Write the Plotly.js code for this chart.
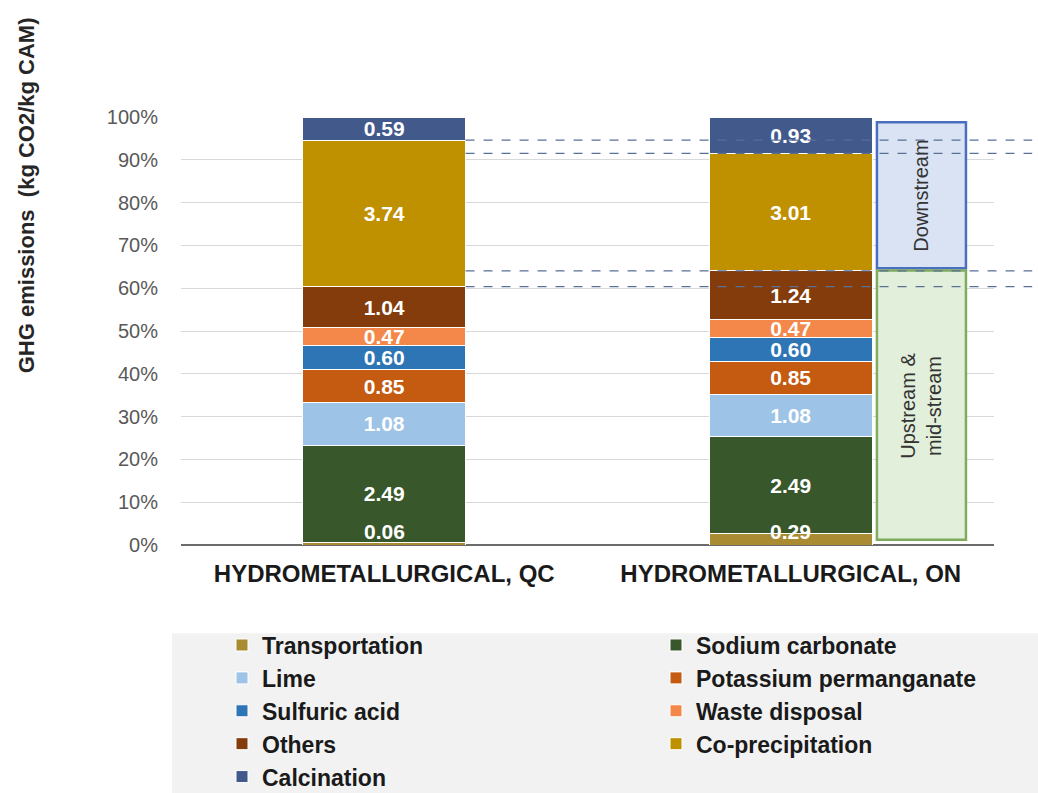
<!DOCTYPE html>
<html><head><meta charset="utf-8">
<script src="https://cdn.plot.ly/plotly-3.0.1.min.js"></script>
<style>html,body{margin:0;padding:0;background:#fff}#chart{width:1038px;height:793px}</style>
</head><body><div id="chart"></div>
<script>
// ---- data ----
const categories = ['HYDROMETALLURGICAL, QC', 'HYDROMETALLURGICAL, ON'];
const seriesNames = ['Transportation', 'Sodium carbonate', 'Lime', 'Potassium permanganate',
  'Sulfuric acid', 'Waste disposal', 'Others', 'Co-precipitation', 'Calcination'];
const transportation = [0.06, 0.29];
const sodiumCarbonate = [2.49, 2.49];
const lime = [1.08, 1.08];
const potassiumPermanganate = [0.85, 0.85];
const sulfuricAcid = [0.60, 0.60];
const wasteDisposal = [0.47, 0.47];
const others = [1.04, 1.24];
const coPrecipitation = [3.74, 3.01];
const calcination = [0.59, 0.93];
const yTickVals = [0, 10, 20, 30, 40, 50, 60, 70, 80, 90, 100];
const yTickText = ['0%', '10%', '20%', '30%', '40%', '50%', '60%', '70%', '80%', '90%', '100%'];
const boxLabels = ['Downstream', 'Upstream &<br>mid-stream'];
const yTitle = 'GHG emissions  (kg CO2/kg CAM)';

// ---- styles ----
const colors = ['#a98b32', '#38572a', '#9dc3e6', '#c55a11', '#2e75b6', '#f4884a', '#843c0c', '#bf9000', '#42598c'];
const seriesValues = [transportation, sodiumCarbonate, lime, potassiumPermanganate, sulfuricAcid,
  wasteDisposal, others, coPrecipitation, calcination];
const FONT = '"Liberation Sans", Arial, sans-serif';

const traces = seriesValues.map((vals, k) => ({
  type: 'bar',
  name: seriesNames[k],
  x: categories,
  y: vals,
  text: vals.map(v => v.toFixed(2)),
  texttemplate: '%{text}',
  textposition: k === 0 ? 'none' : 'inside',
  insidetextanchor: 'middle',
  textangle: 0,
  constraintext: 'none',
  textfont: {family: FONT, size: 21, color: '#ffffff', weight: 'bold'},
  marker: {color: colors[k], line: {color: '#ffffff', width: 1}},
  hoverinfo: 'name+text'
}));

// cumulative percentage tops computed from the data
const totals = categories.map((c, i) => seriesValues.reduce((s, arr) => s + arr[i], 0));
function cumTop(i, k) {
  let s = 0;
  for (let j = 0; j <= k; j++) s += seriesValues[j][i];
  return s / totals[i] * 100;
}
const barWidth = 0.4;
const xToPaper = x => (x + 0.5) / 2; // category range [-0.5, 1.5]

const dashedLevels = [cumTop(0, 7), cumTop(1, 7), cumTop(1, 6), cumTop(0, 6)];
const shapes = [];
// legend backdrop
shapes.push({type: 'rect', xref: 'paper', yref: 'paper', x0: -0.0111, x1: 1.1, y0: -0.206, y1: -0.7,
  fillcolor: '#f2f2f2', line: {width: 0}, layer: 'below'});
// boxes
const onOthersTop = cumTop(1, 6);
shapes.push({type: 'rect', xref: 'x', yref: 'y', x0: 1.212, x1: 1.431, y0: onOthersTop + 0.6, y1: 98.8,
  fillcolor: '#dae3f3', line: {color: '#4a6fc0', width: 2.5}, layer: 'above'});
shapes.push({type: 'rect', xref: 'x', yref: 'y', x0: 1.212, x1: 1.431, y0: 1.2, y1: onOthersTop + 0.1,
  fillcolor: '#e2efda', line: {color: '#7eab5e', width: 2.5}, layer: 'above'});
dashedLevels.forEach(lv => shapes.push({
  type: 'line', xref: 'paper', yref: 'paper', x0: xToPaper(barWidth / 2), x1: 1.047, y0: lv / 100, y1: lv / 100,
  line: {color: '#5a6f96', width: 1.3, dash: 'dash'}, layer: 'above'
}));

const annotations = [];
// transportation labels (segment too thin to hold its text)
categories.forEach((c, i) => annotations.push({
  x: c, y: 0, xref: 'x', yref: 'y', yanchor: 'bottom', showarrow: false,
  text: transportation[i].toFixed(2), font: {family: FONT, size: 21, color: '#ffffff', weight: 'bold'}
}));
annotations.push({x: 1.3215, y: (onOthersTop + 0.6 + 98.8) / 2, xref: 'x', yref: 'y', showarrow: false,
  xanchor: 'center', yanchor: 'middle',
  textangle: -90, text: boxLabels[0], font: {family: FONT, size: 20, color: '#333333'}});
annotations.push({x: 1.3215, y: (1.2 + onOthersTop) / 2, xref: 'x', yref: 'y', showarrow: false,
  xanchor: 'center', yanchor: 'middle',
  textangle: -90, text: boxLabels[1], font: {family: FONT, size: 20, color: '#333333'}});
annotations.push({x: -0.189, y: 0.818, xref: 'paper', yref: 'paper', showarrow: false, textangle: -90,
  xanchor: 'center', yanchor: 'middle',
  text: yTitle, font: {family: FONT, size: 22, color: '#262626', weight: 'bold'}});

const layout = {
  width: 1038, height: 793,
  margin: {l: 181, r: 44, t: 117, b: 248, autoexpand: false},
  paper_bgcolor: '#ffffff', plot_bgcolor: '#ffffff',
  barmode: 'stack', barnorm: 'percent', bargap: 0.6,
  font: {family: FONT},
  xaxis: {
    type: 'category', range: [-0.5, 1.5], showgrid: false, showline: false, ticks: '',
    tickfont: {family: FONT, size: 24, color: '#1a1a1a', weight: 'bold'}, ticklabelstandoff: 12
  },
  yaxis: {
    range: [0, 100], tickvals: yTickVals, ticktext: yTickText, showgrid: true, gridcolor: '#d9d9d9', gridwidth: 1,
    zeroline: true, zerolinecolor: '#6b6b6b', zerolinewidth: 2.5, showline: false, ticks: '',
    tickfont: {family: FONT, size: 20, color: '#595959'}, ticklabelstandoff: 22
  },
  showlegend: true,
  legend: {
    orientation: 'h', x: -0.00615, xanchor: 'left', y: -0.076, yanchor: 'top',
    traceorder: 'normal', entrywidth: 389, entrywidthmode: 'pixels',
    bgcolor: 'rgba(0,0,0,0)', bordercolor: 'rgba(0,0,0,0)', borderwidth: 46,
    font: {family: FONT, size: 23, color: '#1a1a1a', weight: 'bold'}
  },
  shapes: shapes,
  annotations: annotations
};

Plotly.newPlot('chart', traces, layout, {displayModeBar: false, staticPlot: true});
</script></body></html>
